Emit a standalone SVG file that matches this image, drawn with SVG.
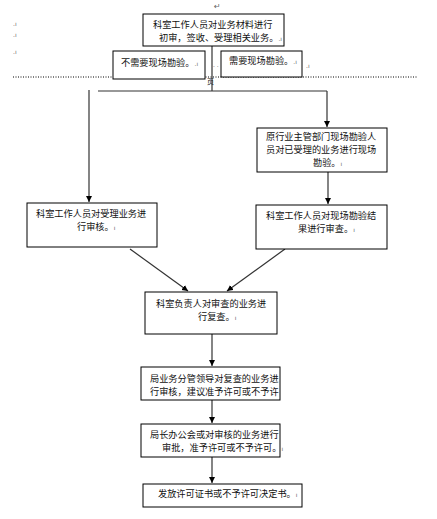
<svg xmlns="http://www.w3.org/2000/svg" width="437" height="519" viewBox="0 0 437 519">
<style>
.box{fill:#fff;stroke:#000;stroke-width:1}
.t{font-family:"Noto Sans CJK SC","Noto Sans",sans-serif;font-size:9.2px;fill:#111}
.m{font-family:"DejaVu Sans",sans-serif;font-size:6px;fill:#666}
.ln{fill:none;stroke:#333;stroke-width:1.2}
</style>
<defs>
<marker id="ah" markerUnits="userSpaceOnUse" markerWidth="7" markerHeight="7" refX="6" refY="3" orient="auto">
<path d="M0,0 L6,3 L0,6 z" fill="#000"/>
</marker>
</defs>
<rect width="437" height="519" fill="#fff"/>
<g id="marks">
<text class="m" x="214" y="9" style="font-size:8px">↵</text>
<text class="m" x="13" y="26">.ı</text>
<text class="m" x="13" y="37">.ı</text>
<text class="m" x="13" y="54">.ı</text>
<text class="m" x="213" y="67">. .</text>
<text class="m" x="306" y="68">.ı</text>
<line x1="13" y1="77" x2="418" y2="77" stroke="#000" stroke-width="1" stroke-dasharray="1,1.5"/>
<text class="t" x="207" y="84" style="font-size:7px">页</text>
</g>
<g id="connectors">
<line class="ln" x1="212" y1="46" x2="212" y2="91"/>
<line class="ln" x1="98" y1="91" x2="327" y2="91"/>
<line class="ln" x1="89" y1="90" x2="89" y2="202" marker-end="url(#ah)"/>
<line class="ln" x1="327" y1="91" x2="327" y2="127" marker-end="url(#ah)"/>
<line class="ln" x1="328" y1="172" x2="328" y2="204" marker-end="url(#ah)"/>
<line class="ln" x1="130" y1="249" x2="188" y2="291" marker-end="url(#ah)"/>
<line class="ln" x1="285" y1="249" x2="227" y2="291" marker-end="url(#ah)"/>
<line class="ln" x1="212" y1="334" x2="212" y2="366" marker-end="url(#ah)"/>
<line class="ln" x1="212" y1="400" x2="212" y2="423" marker-end="url(#ah)"/>
<line class="ln" x1="212" y1="457" x2="212" y2="483" marker-end="url(#ah)"/>
</g>
<g id="n1">
<rect class="box" x="143" y="14" width="141" height="32"/>
<text class="t" x="153" y="27.5">科室工作人员对业务材料进行</text>
<text class="t" x="159" y="40.5">初审，签收、受理相关业务。<tspan class="m">.ı</tspan></text>
</g>
<g id="n2">
<rect class="box" x="113" y="51" width="92" height="28"/>
<text class="t" x="121" y="65.5">不需要现场勘验。<tspan class="m">.ı</tspan></text>
</g>
<g id="n3">
<rect class="box" x="221" y="51" width="81" height="26"/>
<text class="t" x="229" y="63.5">需要现场勘验。<tspan class="m">.ı</tspan></text>
</g>
<g id="n4">
<rect class="box" x="257" y="128" width="130" height="44"/>
<text class="t" x="266" y="140">原行业主管部门现场勘验人</text>
<text class="t" x="266" y="153">员对已受理的业务进行现场</text>
<text class="t" x="313" y="166">勘验。<tspan class="m">ı</tspan></text>
</g>
<g id="n5">
<rect class="box" x="27" y="203" width="130" height="44"/>
<text class="t" x="36" y="217">科室工作人员对受理业务进</text>
<text class="t" x="77" y="230">行审核。<tspan class="m">ı</tspan></text>
</g>
<g id="n6">
<rect class="box" x="256" y="205" width="131" height="44"/>
<text class="t" x="266" y="219">科室工作人员对现场勘验结</text>
<text class="t" x="298" y="232">果进行审查。<tspan class="m">ı</tspan></text>
</g>
<g id="n7">
<rect class="box" x="145" y="292" width="132" height="42"/>
<text class="t" x="156" y="307">科室负责人对审查的业务进</text>
<text class="t" x="198" y="320">行复查。<tspan class="m">ı</tspan></text>
</g>
<g id="n8">
<rect class="box" x="141" y="367" width="139" height="33"/>
<text class="t" x="150" y="381.5">局业务分管领导对复查的业务进</text>
<text class="t" x="150" y="394.5">行审核，建议准予许可或不予许</text>
</g>
<g id="n9">
<rect class="box" x="141" y="424" width="139" height="33"/>
<text class="t" x="150" y="437.5">局长办公会或对审核的业务进行</text>
<text class="t" x="162" y="450.5">审批，准予许可或不予许可。<tspan class="m">ı</tspan></text>
</g>
<g id="n10">
<rect class="box" x="143" y="484" width="159" height="23"/>
<text class="t" x="158" y="496.5">发放许可证书或不予许可决定书。<tspan class="m">ı</tspan></text>
</g>
</svg>
